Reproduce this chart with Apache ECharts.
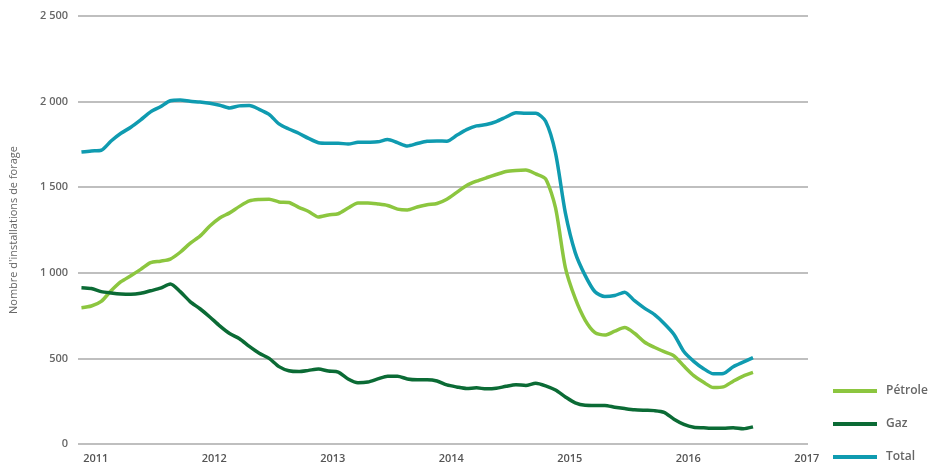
<!DOCTYPE html>
<html>
<head>
<meta charset="utf-8">
<script src="https://cdn.jsdelivr.net/npm/echarts@6/dist/echarts.min.js"></script>
<style>
html,body{margin:0;padding:0;background:#fff;}
#c{width:933px;height:468px;}
</style>
</head>
<body>
<div id="c"></div>
<script>
// Monthly observations, November 2010 to July 2016
var startYear = 2010, startMonth = 11, monthCount = 69;
var yearTicks = [2011, 2012, 2013, 2014, 2015, 2016, 2017];
var yTicks = [0, 500, 1000, 1500, 2000, 2500];

var petrole = [796, 806, 833, 895, 948, 983, 1020, 1059, 1068, 1080,
  1120, 1172, 1214, 1273, 1320, 1350, 1388, 1420, 1428, 1430,
  1414, 1411, 1382, 1358, 1326, 1338, 1345, 1378, 1408, 1408,
  1402, 1393, 1372, 1367, 1384, 1397, 1405, 1430, 1470, 1510,
  1535, 1555, 1574, 1592, 1598, 1600, 1578, 1549, 1380, 1030,
  850, 724, 651, 636, 659, 680, 647, 596, 565, 539,
  515, 455, 399, 360, 330, 334, 367, 397, 418];

var gaz = [913, 908, 890, 882, 876, 874, 880, 895, 910, 935,
  890, 832, 790, 742, 690, 645, 615, 570, 530, 500,
  452, 428, 423, 430, 438, 426, 420, 380, 358, 362,
  380, 396, 396, 380, 375, 375, 368, 345, 333, 324,
  328, 322, 325, 337, 346, 342, 355, 340, 315, 275,
  240, 226, 225, 225, 215, 207, 200, 197, 195, 185,
  145, 115, 98, 95, 92, 92, 95, 89, 100];

var total = [1706, 1712, 1716, 1770, 1815, 1850, 1893, 1940, 1970, 2005,
  2009, 2002, 1997, 1990, 1979, 1963, 1975, 1977, 1955, 1925,
  1870, 1840, 1815, 1785, 1760, 1757, 1757, 1752, 1762, 1763,
  1765, 1778, 1760, 1741, 1755, 1768, 1770, 1769, 1803, 1836,
  1858, 1866, 1883, 1910, 1935, 1932, 1932, 1885, 1700, 1350,
  1118, 985, 889, 861, 867, 887, 837, 794, 757, 704,
  640, 540, 483, 440, 410, 412, 451, 478, 505];

// time position of each monthly observation (decimal year)
var times = [];
for (var i = 0; i < monthCount; i++) {
  times.push(startYear + (startMonth - 1 + i + 0.55) / 12);
}
function pairs(vals) {
  return vals.map(function (v, i) { return [times[i], v]; });
}

var FONT = '"Open Sans", "Noto Sans", sans-serif';
var chart = echarts.init(document.getElementById('c'), null, {renderer: 'canvas'});

function lineSeries(name, vals, color) {
  return {
    name: name,
    type: 'line',
    data: pairs(vals),
    smooth: 0.25,
    showSymbol: false,
    symbol: 'none',
    lineStyle: {width: 3.5, color: color},
    itemStyle: {color: color},
    emphasis: {disabled: true}
  };
}

chart.setOption({
  animation: false,
  backgroundColor: '#fff',
  grid: {left: 78, right: 125, top: 16, bottom: 24, containLabel: false},
  legend: {
    orient: 'vertical',
    left: 833,
    top: 383,
    padding: 0,
    itemWidth: 44,
    itemHeight: 4,
    itemGap: 17,
    icon: 'rect',
    textStyle: {fontFamily: FONT, fontSize: 12, fontWeight: 600, color: '#666', lineHeight: 16, padding: [0, 0, 0, 4]},
    data: ['Pétrole', 'Gaz', 'Total']
  },
  xAxis: {
    type: 'value',
    min: 2010.85,
    max: 2017.01,
    axisLine: {show: false},
    axisTick: {show: false},
    splitLine: {show: false},
    axisLabel: {
      customValues: yearTicks,
      formatter: function (v) { return String(Math.round(v)); },
      fontFamily: FONT,
      fontSize: 11,
      fontWeight: 600,
      color: '#555',
      margin: 9
    }
  },
  yAxis: {
    type: 'value',
    min: 0,
    max: 2500,
    interval: 500,
    name: "Nombre d'installations de forage",
    nameLocation: 'middle',
    nameGap: 59,
    nameTextStyle: {fontFamily: FONT, fontSize: 11, color: '#666'},
    axisLine: {show: false},
    axisTick: {show: false},
    splitLine: {show: true, lineStyle: {color: '#aaaaaa', width: 1.5}},
    axisLabel: {
      fontFamily: FONT,
      fontSize: 11,
      fontWeight: 600,
      color: '#666',
      margin: 10,
      formatter: function (v) {
        return String(v).replace(/\B(?=(\d{3})+(?!\d))/g, ' ');
      }
    }
  },
  series: [
    lineSeries('Pétrole', petrole, '#8cc63f'),
    lineSeries('Gaz', gaz, '#0b6b35'),
    lineSeries('Total', total, '#0f9bb0')
  ]
});
</script>
</body>
</html>
